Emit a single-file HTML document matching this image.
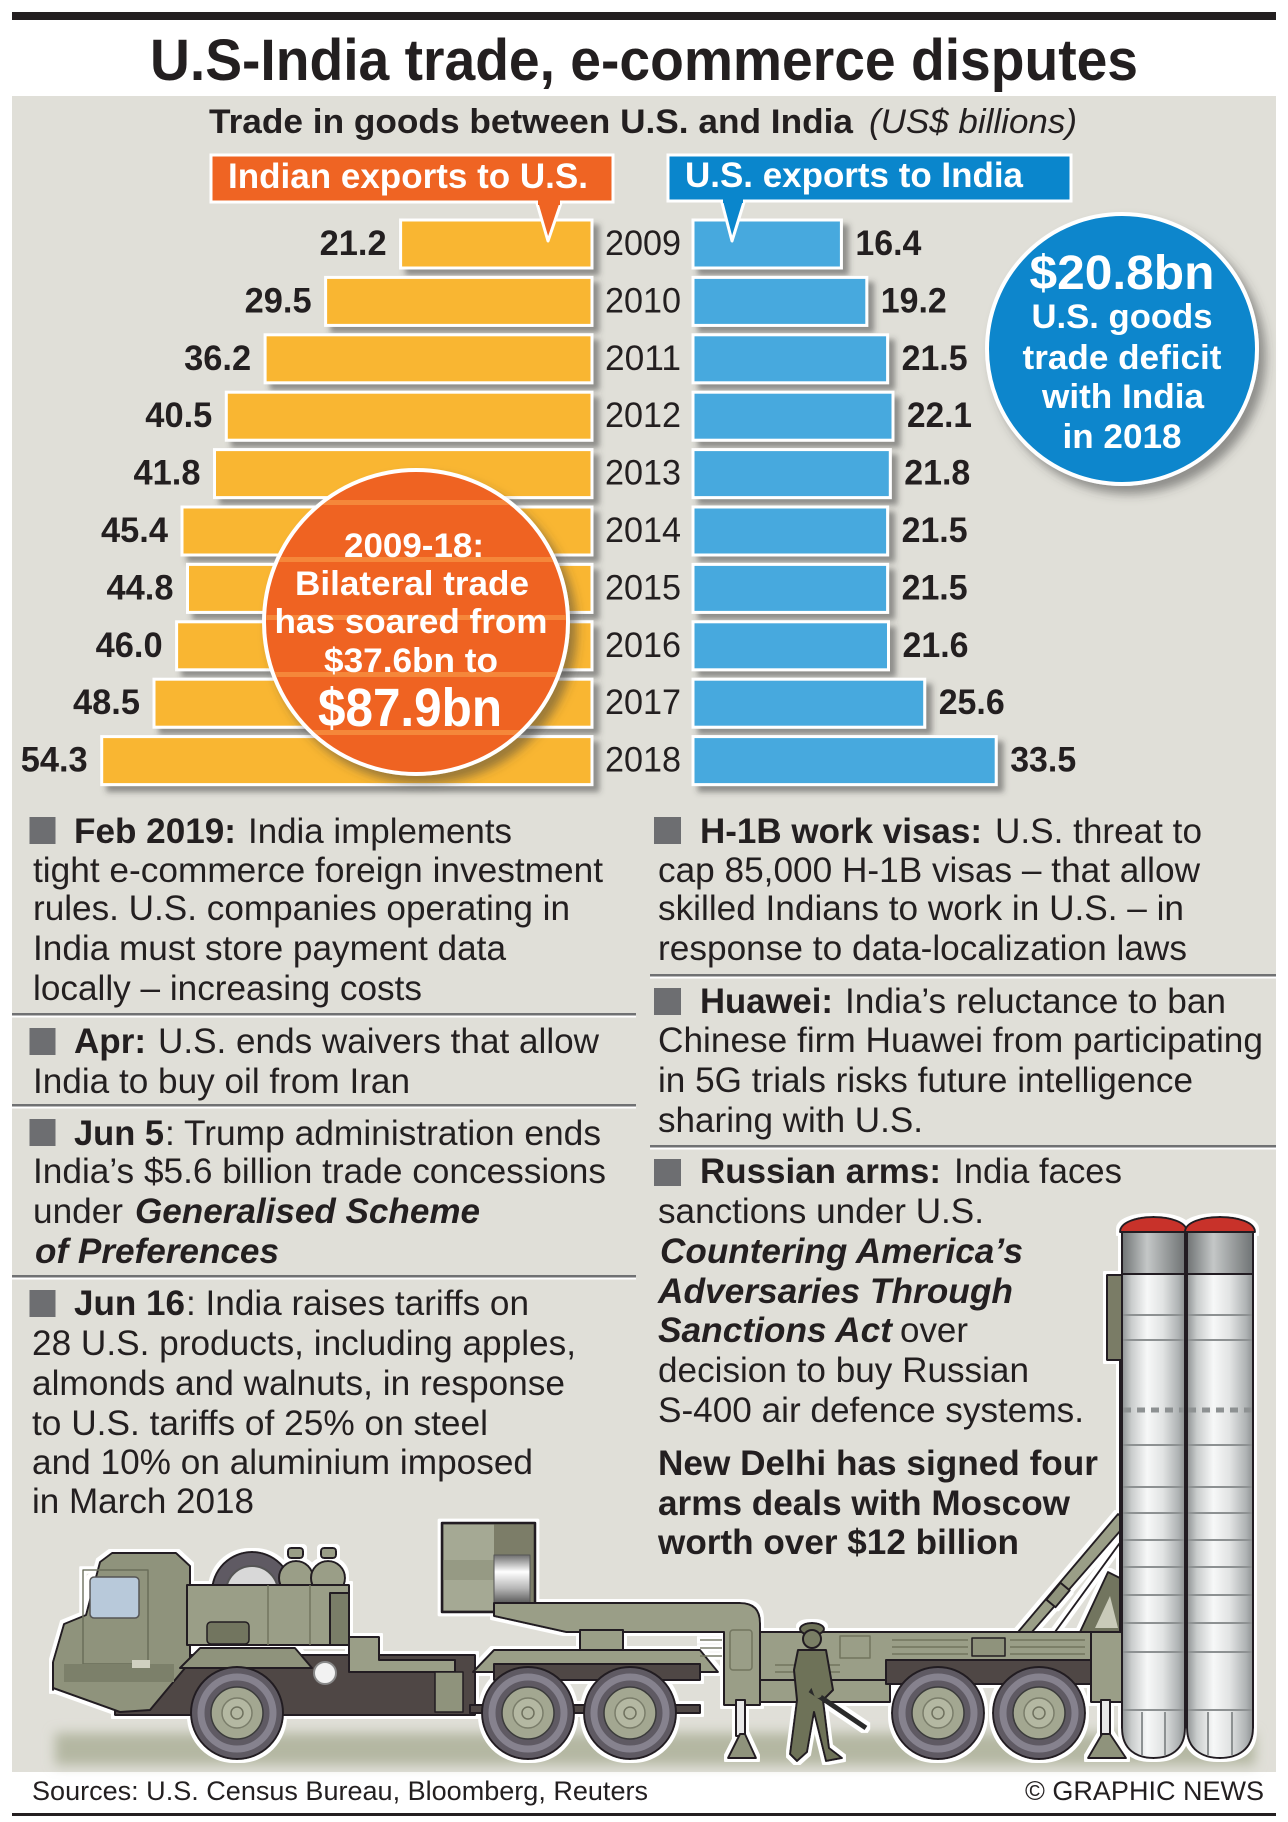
<!DOCTYPE html>
<html>
<head>
<meta charset="utf-8">
<style>
html,body{margin:0;padding:0;background:#fff;}
svg{display:block;}
text{font-family:"Liberation Sans",Arial,sans-serif;fill:#231f20;}
.bd{font-weight:bold;}
.it{font-style:italic;}
.w{fill:#fff;}
</style>
</head>
<body>
<svg width="1288" height="1822" viewBox="0 0 1288 1822" xmlns="http://www.w3.org/2000/svg">
<defs>
  <filter id="sh" x="-10%" y="-10%" width="130%" height="140%">
    <feDropShadow dx="6" dy="6" stdDeviation="3" flood-color="#3a3a3a" flood-opacity="0.5"/>
  </filter>
  <filter id="csh" x="-20%" y="-20%" width="140%" height="140%">
    <feDropShadow dx="7" dy="8" stdDeviation="5" flood-color="#3a3a3a" flood-opacity="0.5"/>
  </filter>
  <filter id="halo" filterUnits="userSpaceOnUse" x="0" y="1150" width="1288" height="672">
    <feMorphology in="SourceAlpha" operator="dilate" radius="3" result="d"/>
    <feFlood flood-color="#ffffff"/>
    <feComposite in2="d" operator="in" result="wh"/>
    <feMerge><feMergeNode in="wh"/><feMergeNode in="SourceGraphic"/></feMerge>
  </filter>
  <filter id="blur" x="-5%" y="-50%" width="110%" height="200%">
    <feGaussianBlur stdDeviation="6"/>
  </filter>
  <clipPath id="oc"><circle cx="416" cy="622" r="150"/></clipPath>
  <linearGradient id="mg" x1="0" y1="0" x2="1" y2="0">
    <stop offset="0" stop-color="#8f9394"/>
    <stop offset="0.15" stop-color="#c9cccc"/>
    <stop offset="0.4" stop-color="#f7f8f8"/>
    <stop offset="0.65" stop-color="#e1e3e3"/>
    <stop offset="0.9" stop-color="#aeb2b3"/>
    <stop offset="1" stop-color="#8c9091"/>
  </linearGradient>
  <linearGradient id="mg2" x1="0" y1="0" x2="1" y2="0">
    <stop offset="0" stop-color="#6f7374"/>
    <stop offset="0.4" stop-color="#c4c7c7"/>
    <stop offset="1" stop-color="#6f7374"/>
  </linearGradient>
  <linearGradient id="chrome" x1="0" y1="0" x2="0" y2="1">
    <stop offset="0" stop-color="#6e6e6e"/>
    <stop offset="0.35" stop-color="#ffffff"/>
    <stop offset="0.7" stop-color="#b5b5b5"/>
    <stop offset="1" stop-color="#5a5a5a"/>
  </linearGradient>
</defs>

<rect width="1288" height="1822" fill="#fff"/>
<rect x="12" y="12" width="1264" height="8" fill="#231f20"/>
<text x="150" y="80" class="bd" font-size="58" textLength="988" lengthAdjust="spacingAndGlyphs">U.S-India trade, e-commerce disputes</text>

<rect x="12" y="96" width="1264" height="1676" fill="#e0dfd8"/>

<text x="209" y="133" class="bd" font-size="34" textLength="644" lengthAdjust="spacingAndGlyphs">Trade in goods between U.S. and India</text>
<text x="869" y="133" class="it" font-size="34" textLength="208" lengthAdjust="spacingAndGlyphs">(US$ billions)</text>

<!-- Left bars -->
<g filter="url(#sh)" fill="#f9b632" stroke="#fff" stroke-width="3">
  <rect x="400.6" y="220" width="191.4" height="48"/>
  <rect x="325.6" y="277.4" width="266.4" height="48"/>
  <rect x="265.1" y="334.8" width="326.9" height="48"/>
  <rect x="226.3" y="392.2" width="365.7" height="48"/>
  <rect x="214.5" y="449.6" width="377.5" height="48"/>
  <rect x="182.0" y="507" width="410" height="48"/>
  <rect x="187.5" y="564.4" width="404.5" height="48"/>
  <rect x="176.6" y="621.8" width="415.4" height="48"/>
  <rect x="154.0" y="679.2" width="438" height="48"/>
  <rect x="101.7" y="736.6" width="490.3" height="48"/>
</g>
<!-- Right bars -->
<g filter="url(#sh)" fill="#47a9de" stroke="#fff" stroke-width="3">
  <rect x="693" y="220" width="148.4" height="48"/>
  <rect x="693" y="277.4" width="173.8" height="48"/>
  <rect x="693" y="334.8" width="194.6" height="48"/>
  <rect x="693" y="392.2" width="200" height="48"/>
  <rect x="693" y="449.6" width="197.3" height="48"/>
  <rect x="693" y="507" width="194.6" height="48"/>
  <rect x="693" y="564.4" width="194.6" height="48"/>
  <rect x="693" y="621.8" width="195.5" height="48"/>
  <rect x="693" y="679.2" width="231.7" height="48"/>
  <rect x="693" y="736.6" width="303.2" height="48"/>
</g>

<!-- Left values -->
<g font-size="35" text-anchor="end">
  <text x="386.6" y="255" class="bd" textLength="67" lengthAdjust="spacingAndGlyphs">21.2</text>
  <text x="311.6" y="312.4" class="bd" textLength="67" lengthAdjust="spacingAndGlyphs">29.5</text>
  <text x="251.1" y="369.8" class="bd" textLength="67" lengthAdjust="spacingAndGlyphs">36.2</text>
  <text x="212.3" y="427.2" class="bd" textLength="67" lengthAdjust="spacingAndGlyphs">40.5</text>
  <text x="200.5" y="484.6" class="bd" textLength="67" lengthAdjust="spacingAndGlyphs">41.8</text>
  <text x="168" y="542" class="bd" textLength="67" lengthAdjust="spacingAndGlyphs">45.4</text>
  <text x="173.5" y="599.4" class="bd" textLength="67" lengthAdjust="spacingAndGlyphs">44.8</text>
  <text x="162.6" y="656.8" class="bd" textLength="67" lengthAdjust="spacingAndGlyphs">46.0</text>
  <text x="140" y="714.2" class="bd" textLength="67" lengthAdjust="spacingAndGlyphs">48.5</text>
  <text x="87.7" y="771.6" class="bd" textLength="67" lengthAdjust="spacingAndGlyphs">54.3</text>
</g>
<!-- Years -->
<g font-size="35">
  <text x="605" y="255" textLength="76" lengthAdjust="spacingAndGlyphs">2009</text>
  <text x="605" y="312.4" textLength="76" lengthAdjust="spacingAndGlyphs">2010</text>
  <text x="605" y="369.8" textLength="76" lengthAdjust="spacingAndGlyphs">2011</text>
  <text x="605" y="427.2" textLength="76" lengthAdjust="spacingAndGlyphs">2012</text>
  <text x="605" y="484.6" textLength="76" lengthAdjust="spacingAndGlyphs">2013</text>
  <text x="605" y="542" textLength="76" lengthAdjust="spacingAndGlyphs">2014</text>
  <text x="605" y="599.4" textLength="76" lengthAdjust="spacingAndGlyphs">2015</text>
  <text x="605" y="656.8" textLength="76" lengthAdjust="spacingAndGlyphs">2016</text>
  <text x="605" y="714.2" textLength="76" lengthAdjust="spacingAndGlyphs">2017</text>
  <text x="605" y="771.6" textLength="76" lengthAdjust="spacingAndGlyphs">2018</text>
</g>
<!-- Right values -->
<g font-size="35">
  <text x="855.4" y="255" class="bd" textLength="66" lengthAdjust="spacingAndGlyphs">16.4</text>
  <text x="880.8" y="312.4" class="bd" textLength="66" lengthAdjust="spacingAndGlyphs">19.2</text>
  <text x="901.6" y="369.8" class="bd" textLength="66" lengthAdjust="spacingAndGlyphs">21.5</text>
  <text x="907" y="427.2" class="bd" textLength="65" lengthAdjust="spacingAndGlyphs">22.1</text>
  <text x="904.3" y="484.6" class="bd" textLength="66" lengthAdjust="spacingAndGlyphs">21.8</text>
  <text x="901.6" y="542" class="bd" textLength="66" lengthAdjust="spacingAndGlyphs">21.5</text>
  <text x="901.6" y="599.4" class="bd" textLength="66" lengthAdjust="spacingAndGlyphs">21.5</text>
  <text x="902.5" y="656.8" class="bd" textLength="66" lengthAdjust="spacingAndGlyphs">21.6</text>
  <text x="938.7" y="714.2" class="bd" textLength="66" lengthAdjust="spacingAndGlyphs">25.6</text>
  <text x="1010.2" y="771.6" class="bd" textLength="66" lengthAdjust="spacingAndGlyphs">33.5</text>
</g>

<!-- Header boxes -->
<polygon points="536,200 562,200 548,241" fill="#ef6423" stroke="#fff" stroke-width="3" stroke-linejoin="round"/>
<rect x="211" y="155" width="402" height="47" fill="#ef6423" stroke="#fff" stroke-width="3"/>
<rect x="538" y="199" width="22" height="6" fill="#ef6423"/>
<text x="228" y="188" class="bd w" font-size="35" textLength="360" lengthAdjust="spacingAndGlyphs">Indian exports to U.S.</text>

<polygon points="721,199 745,199 732,241" fill="#0a86cc" stroke="#fff" stroke-width="3" stroke-linejoin="round"/>
<rect x="668" y="155" width="403" height="46" fill="#0a86cc" stroke="#fff" stroke-width="3"/>
<rect x="723" y="197" width="20" height="6" fill="#0a86cc"/>
<text x="685" y="187" class="bd w" font-size="35" textLength="338" lengthAdjust="spacingAndGlyphs">U.S. exports to India</text>

<!-- Blue circle -->
<circle cx="1122" cy="349" r="135" fill="#0a86cc" stroke="#fff" stroke-width="4" filter="url(#csh)"/>
<g text-anchor="middle">
  <text x="1122" y="289" class="bd w" font-size="48" textLength="185" lengthAdjust="spacingAndGlyphs">$20.8bn</text>
  <text x="1122" y="328" class="bd w" font-size="34" textLength="181" lengthAdjust="spacingAndGlyphs">U.S. goods</text>
  <text x="1122" y="369" class="bd w" font-size="34" textLength="199" lengthAdjust="spacingAndGlyphs">trade deficit</text>
  <text x="1123" y="408" class="bd w" font-size="34" textLength="162" lengthAdjust="spacingAndGlyphs">with India</text>
  <text x="1122" y="448" class="bd w" font-size="34" textLength="119" lengthAdjust="spacingAndGlyphs">in 2018</text>
</g>

<!-- Orange circle -->
<circle cx="416" cy="622" r="152" fill="#ef6423" stroke="#fff" stroke-width="4" filter="url(#csh)"/>
<g clip-path="url(#oc)" fill="#f5873a">
  <rect x="260" y="500" width="320" height="5"/>
  <rect x="260" y="557" width="320" height="5"/>
  <rect x="260" y="615" width="320" height="5"/>
  <rect x="260" y="672" width="320" height="5"/>
  <rect x="260" y="730" width="320" height="5"/>
</g>
<g text-anchor="middle">
  <text x="414" y="557" class="bd w" font-size="34" textLength="140" lengthAdjust="spacingAndGlyphs">2009-18:</text>
  <text x="412" y="595" class="bd w" font-size="34" textLength="234" lengthAdjust="spacingAndGlyphs">Bilateral trade</text>
  <text x="411" y="633" class="bd w" font-size="34" textLength="273" lengthAdjust="spacingAndGlyphs">has soared from</text>
  <text x="411" y="672" class="bd w" font-size="34" textLength="174" lengthAdjust="spacingAndGlyphs">$37.6bn to</text>
  <text x="410" y="726" class="bd w" font-size="54" textLength="184" lengthAdjust="spacingAndGlyphs">$87.9bn</text>
</g>

<!-- Separators -->
<g>
  <rect x="12" y="1013" width="624" height="2.5" fill="#707173"/><rect x="12" y="1015.5" width="624" height="2" fill="#fff"/>
  <rect x="12" y="1104" width="624" height="2.5" fill="#707173"/><rect x="12" y="1106.5" width="624" height="2" fill="#fff"/>
  <rect x="12" y="1275" width="624" height="2.5" fill="#707173"/><rect x="12" y="1277.5" width="624" height="2" fill="#fff"/>
  <rect x="650" y="974" width="626" height="2.5" fill="#707173"/><rect x="650" y="976.5" width="626" height="2" fill="#fff"/>
  <rect x="650" y="1145" width="626" height="2.5" fill="#707173"/><rect x="650" y="1147.5" width="626" height="2" fill="#fff"/>
</g>

<!-- Bullets -->
<g fill="#6d6e71">
  <rect x="29.5" y="817" width="26" height="27"/>
  <rect x="29.5" y="1028" width="26" height="27"/>
  <rect x="29.5" y="1119" width="26" height="27"/>
  <rect x="29.5" y="1290" width="26" height="27"/>
  <rect x="654" y="817" width="27" height="27"/>
  <rect x="654" y="988" width="27" height="27"/>
  <rect x="654" y="1159" width="27" height="27"/>
</g>

<!-- Left column text -->
<g font-size="35">
  <text x="74" y="843" class="bd" textLength="162" lengthAdjust="spacingAndGlyphs">Feb 2019:</text>
  <text x="248" y="843" textLength="264" lengthAdjust="spacingAndGlyphs">India implements</text>
  <text x="33" y="882" textLength="570" lengthAdjust="spacingAndGlyphs">tight e-commerce foreign investment</text>
  <text x="33" y="920" textLength="537" lengthAdjust="spacingAndGlyphs">rules. U.S. companies operating in</text>
  <text x="33" y="960" textLength="473" lengthAdjust="spacingAndGlyphs">India must store payment data</text>
  <text x="33" y="1000" textLength="389" lengthAdjust="spacingAndGlyphs">locally – increasing costs</text>

  <text x="74" y="1053" class="bd" textLength="72" lengthAdjust="spacingAndGlyphs">Apr:</text>
  <text x="158" y="1053" textLength="441" lengthAdjust="spacingAndGlyphs">U.S. ends waivers that allow</text>
  <text x="33" y="1093" textLength="377" lengthAdjust="spacingAndGlyphs">India to buy oil from Iran</text>

  <text x="74" y="1145" class="bd" textLength="90" lengthAdjust="spacingAndGlyphs">Jun 5</text>
  <text x="165" y="1145" textLength="436" lengthAdjust="spacingAndGlyphs">: Trump administration ends</text>
  <text x="33" y="1183" textLength="573" lengthAdjust="spacingAndGlyphs">India’s $5.6 billion trade concessions</text>
  <text x="33" y="1223" textLength="90" lengthAdjust="spacingAndGlyphs">under</text>
  <text x="135" y="1223" class="bd it" textLength="345" lengthAdjust="spacingAndGlyphs">Generalised Scheme</text>
  <text x="35" y="1263" class="bd it" textLength="244" lengthAdjust="spacingAndGlyphs">of Preferences</text>

  <text x="74" y="1315" class="bd" textLength="111" lengthAdjust="spacingAndGlyphs">Jun 16</text>
  <text x="186" y="1315" textLength="343" lengthAdjust="spacingAndGlyphs">: India raises tariffs on</text>
  <text x="32" y="1355" textLength="544" lengthAdjust="spacingAndGlyphs">28 U.S. products, including apples,</text>
  <text x="32" y="1395" textLength="533" lengthAdjust="spacingAndGlyphs">almonds and walnuts, in response</text>
  <text x="32" y="1435" textLength="456" lengthAdjust="spacingAndGlyphs">to U.S. tariffs of 25% on steel</text>
  <text x="32" y="1474" textLength="501" lengthAdjust="spacingAndGlyphs">and 10% on aluminium imposed</text>
  <text x="32" y="1513" textLength="222" lengthAdjust="spacingAndGlyphs">in March 2018</text>
</g>

<!-- Right column text -->
<g font-size="35">
  <text x="700" y="843" class="bd" textLength="282" lengthAdjust="spacingAndGlyphs">H-1B work visas:</text>
  <text x="995" y="843" textLength="207" lengthAdjust="spacingAndGlyphs">U.S. threat to</text>
  <text x="658" y="882" textLength="542" lengthAdjust="spacingAndGlyphs">cap 85,000 H-1B visas – that allow</text>
  <text x="658" y="920" textLength="526" lengthAdjust="spacingAndGlyphs">skilled Indians to work in U.S. – in</text>
  <text x="658" y="960" textLength="529" lengthAdjust="spacingAndGlyphs">response to data-localization laws</text>

  <text x="700" y="1013" class="bd" textLength="133" lengthAdjust="spacingAndGlyphs">Huawei:</text>
  <text x="845" y="1013" textLength="381" lengthAdjust="spacingAndGlyphs">India’s reluctance to ban</text>
  <text x="658" y="1052" textLength="605" lengthAdjust="spacingAndGlyphs">Chinese firm Huawei from participating</text>
  <text x="658" y="1092" textLength="535" lengthAdjust="spacingAndGlyphs">in 5G trials risks future intelligence</text>
  <text x="658" y="1132" textLength="265" lengthAdjust="spacingAndGlyphs">sharing with U.S.</text>

  <text x="700" y="1183" class="bd" textLength="241" lengthAdjust="spacingAndGlyphs">Russian arms:</text>
  <text x="954" y="1183" textLength="168" lengthAdjust="spacingAndGlyphs">India faces</text>
  <text x="658" y="1223" textLength="326" lengthAdjust="spacingAndGlyphs">sanctions under U.S.</text>
  <text x="660" y="1263" class="bd it" textLength="363" lengthAdjust="spacingAndGlyphs">Countering America’s</text>
  <text x="658" y="1303" class="bd it" textLength="355" lengthAdjust="spacingAndGlyphs">Adversaries Through</text>
  <text x="658" y="1342" class="bd it" textLength="234" lengthAdjust="spacingAndGlyphs">Sanctions Act</text>
  <text x="900" y="1342" textLength="68" lengthAdjust="spacingAndGlyphs">over</text>
  <text x="658" y="1382" textLength="371" lengthAdjust="spacingAndGlyphs">decision to buy Russian</text>
  <text x="658" y="1422" textLength="426" lengthAdjust="spacingAndGlyphs">S-400 air defence systems.</text>
  <text x="658" y="1475" class="bd" textLength="440" lengthAdjust="spacingAndGlyphs">New Delhi has signed four</text>
  <text x="658" y="1515" class="bd" textLength="412" lengthAdjust="spacingAndGlyphs">arms deals with Moscow</text>
  <text x="658" y="1554" class="bd" textLength="361" lengthAdjust="spacingAndGlyphs">worth over $12 billion</text>
</g>

<!-- Ground shadow -->
<rect x="55" y="1733" width="1200" height="32" fill="#b4b7a2" filter="url(#blur)"/>

<!-- Vehicle -->
<g filter="url(#halo)" stroke="#231f20" stroke-width="2" stroke-linejoin="round">
  <rect x="115" y="1655" width="360" height="60" fill="#4f4745"/>
  <rect x="470" y="1705" width="230" height="8" fill="#4f4745"/>
  <circle cx="252" cy="1592" r="40" fill="#5e5a64"/>
  <circle cx="252" cy="1592" r="26" fill="#d8d8d8" stroke="#555"/>
  <rect x="288" y="1548" width="15" height="10" rx="3" fill="#9a9e87"/>
  <rect x="321" y="1548" width="15" height="10" rx="3" fill="#9a9e87"/>
  <circle cx="296" cy="1578" r="17" fill="#9a9e87"/>
  <circle cx="328" cy="1578" r="17" fill="#9a9e87"/>
  <path d="M53,1690 L53,1662 L64,1624 L86,1615 L100,1562 L112,1553 L176,1553 L190,1566 L190,1662 L150,1710 L120,1712 L53,1688 Z" fill="#8f937c"/>
  <rect x="90" y="1577" width="49" height="41" rx="4" fill="#b8c9da" stroke="#555" stroke-width="1.5"/>
  <rect x="83" y="1570" width="65" height="94" fill="none" stroke="#6b6e5a" stroke-width="1.5"/>
  <rect x="64" y="1664" width="110" height="18" fill="#7c806a" stroke="none"/>
  <rect x="132" y="1660" width="18" height="8" fill="#d0d0c0" stroke="none"/>
  <rect x="187" y="1585" width="162" height="60" fill="#9a9e87"/>
  <rect x="207" y="1622" width="42" height="22" rx="4" fill="#72755f" stroke-width="1.5"/>
  <rect x="330" y="1593" width="19" height="52" fill="#7a7e68"/>
  <line x1="268" y1="1585" x2="268" y2="1645" stroke="#72755f" stroke-width="1.5"/>
  <line x1="310" y1="1585" x2="310" y2="1645" stroke="#72755f" stroke-width="1.5"/>
  <path d="M180,1668 L200,1648 L295,1648 L312,1668 Z" fill="#8f937c"/>
  <path d="M349,1637 L379,1637 L379,1660 L455,1660 L455,1672 L349,1672 Z" fill="#9a9e87"/>
  <circle cx="325" cy="1673" r="11" fill="#f2f2f2" stroke="#888"/>
  <rect x="435" y="1672" width="28" height="40" fill="#8f937c" stroke-width="1.5"/>
  <path d="M473,1672 L494,1650 L700,1650 L718,1672 Z" fill="#9a9e87"/>
  <rect x="494" y="1664" width="206" height="16" fill="#4f4745"/>
  <rect x="442" y="1523" width="93" height="89" fill="#a5a994" stroke-width="2.5"/>
  <rect x="494" y="1523" width="41" height="89" fill="#7b7d67" stroke="none"/>
  <rect x="442" y="1560" width="52" height="20" fill="#969a84" stroke="none"/>
  <rect x="494" y="1555" width="36" height="48" fill="url(#chrome)" stroke="#555" stroke-width="1"/>
  <rect x="442" y="1523" width="93" height="89" fill="none" stroke-width="2.5"/>
  <path d="M494,1603 L740,1603 Q760,1603 760,1623 L760,1705 L724,1705 L724,1632 L566,1632 L494,1616 Z" fill="#9a9e87"/>
  <rect x="580" y="1630" width="43" height="20" fill="#9a9e87"/>
  <g stroke="#72755f" stroke-width="1.5">
    <line x1="700" y1="1640" x2="722" y2="1640"/><line x1="700" y1="1648" x2="722" y2="1648"/><line x1="700" y1="1656" x2="722" y2="1656"/>
  </g>
  <rect x="730" y="1630" width="22" height="40" rx="3" fill="none" stroke="#72755f" stroke-width="1.5"/>
  <rect x="760" y="1632" width="371" height="48" fill="#9a9e87"/>
  <rect x="760" y="1680" width="130" height="22" fill="#9a9e87"/>
  <rect x="886" y="1660" width="205" height="24" fill="#4f4745"/>
  <rect x="1091" y="1632" width="40" height="70" fill="#9a9e87"/>
  <g stroke="#72755f" stroke-width="1.5">
    <line x1="892" y1="1640" x2="968" y2="1640"/><line x1="892" y1="1647" x2="968" y2="1647"/><line x1="892" y1="1654" x2="968" y2="1654"/>
    <line x1="1010" y1="1640" x2="1085" y2="1640"/><line x1="1010" y1="1647" x2="1085" y2="1647"/><line x1="1010" y1="1654" x2="1085" y2="1654"/>
    <line x1="775" y1="1665" x2="840" y2="1665"/><line x1="775" y1="1672" x2="840" y2="1672"/>
  </g>
  <rect x="972" y="1638" width="33" height="18" fill="#8f937c" stroke-width="1.5"/>
  <rect x="840" y="1636" width="30" height="22" fill="none" stroke="#72755f" stroke-width="1.5"/>
  <rect x="736" y="1700" width="9" height="36" fill="#e8e8e8"/>
  <path d="M728,1758 L740,1734 L745,1734 L756,1758 Z" fill="#8f937c"/>
  <rect x="1101" y="1700" width="9" height="36" fill="#e8e8e8"/>
  <path d="M1088,1758 L1102,1734 L1110,1734 L1126,1758 Z" fill="#8f937c"/>
  <polygon points="1018,1632 1032,1632 1128,1522 1118,1514" fill="#9a9e87"/>
  <rect x="1052" y="1584" width="12" height="22" fill="#8f937c" transform="rotate(40 1058 1595)"/>
  <line x1="1055" y1="1632" x2="1122" y2="1540" stroke-width="2"/>
  <polygon points="1080,1632 1108,1572 1124,1580 1124,1632" fill="#72755f"/>
  <polygon points="1095,1628 1110,1596 1118,1628" fill="#c9cab9" stroke="none"/>
  <rect x="1107" y="1275" width="16" height="85" fill="#7a7c66"/>
  <line x1="1120" y1="1360" x2="1120" y2="1632" stroke-width="2"/>
  <path d="M1122,1230 L1185,1230 L1185,1728 C1185,1750 1170,1758 1153.5,1758 C1137,1758 1122,1750 1122,1728 Z" fill="url(#mg)"/>
  <path d="M1187,1230 L1253,1230 L1253,1728 C1253,1750 1237,1758 1220,1758 C1203,1758 1187,1750 1187,1728 Z" fill="url(#mg)"/>
  <rect x="1122" y="1230" width="63" height="44" fill="url(#mg2)"/>
  <rect x="1187" y="1230" width="66" height="44" fill="url(#mg2)"/>
  <path d="M1120,1232 C1120,1212 1187,1212 1187,1232 Z" fill="#c8312c"/>
  <path d="M1185,1232 C1185,1212 1255,1212 1255,1232 Z" fill="#c8312c"/>
  <g stroke="#8d9192" stroke-width="2">
    <line x1="1123" y1="1315" x2="1184" y2="1315"/><line x1="1188" y1="1315" x2="1252" y2="1315"/>
    <line x1="1123" y1="1340" x2="1184" y2="1340"/><line x1="1188" y1="1340" x2="1252" y2="1340"/>
    <line x1="1123" y1="1410" x2="1184" y2="1410" stroke-width="5" stroke-dasharray="8 6"/><line x1="1188" y1="1410" x2="1252" y2="1410" stroke-width="5" stroke-dasharray="8 6"/>
    <line x1="1123" y1="1445" x2="1184" y2="1445"/><line x1="1188" y1="1445" x2="1252" y2="1445"/>
    <line x1="1123" y1="1487" x2="1184" y2="1487"/><line x1="1188" y1="1487" x2="1252" y2="1487"/>
    <line x1="1123" y1="1513" x2="1184" y2="1513"/><line x1="1188" y1="1513" x2="1252" y2="1513"/>
    <line x1="1123" y1="1540" x2="1184" y2="1540"/><line x1="1188" y1="1540" x2="1252" y2="1540"/>
    <line x1="1123" y1="1567" x2="1184" y2="1567"/><line x1="1188" y1="1567" x2="1252" y2="1567"/>
    <line x1="1123" y1="1595" x2="1184" y2="1595"/><line x1="1188" y1="1595" x2="1252" y2="1595"/>
    <line x1="1123" y1="1623" x2="1184" y2="1623"/><line x1="1188" y1="1623" x2="1252" y2="1623"/>
    <line x1="1123" y1="1652" x2="1184" y2="1652"/><line x1="1188" y1="1652" x2="1252" y2="1652"/>
    <line x1="1123" y1="1710" x2="1184" y2="1710"/><line x1="1188" y1="1710" x2="1252" y2="1710"/>
    <line x1="1142" y1="1712" x2="1142" y2="1755"/><line x1="1165" y1="1712" x2="1165" y2="1755"/>
    <line x1="1208" y1="1712" x2="1208" y2="1755"/><line x1="1232" y1="1712" x2="1232" y2="1755"/>
  </g>
  <ellipse cx="812" cy="1629" rx="12" ry="6" fill="#6e7259"/>
  <circle cx="812" cy="1639" r="9" fill="#7a7e65"/>
  <path d="M798,1650 L826,1650 L833,1690 L823,1700 L829,1748 L842,1758 L826,1761 L814,1712 L807,1752 L797,1761 L790,1754 L797,1700 L794,1670 Z" fill="#6e7259"/>
  <line x1="810" y1="1690" x2="866" y2="1728" stroke="#2a2a2a" stroke-width="5"/>
  <line x1="806" y1="1662" x2="818" y2="1694" stroke="#6e7259" stroke-width="8" stroke-linecap="round"/>
  <g>
    <circle cx="237" cy="1713" r="46" fill="#5e5a64"/>
    <circle cx="237" cy="1713" r="36" fill="none" stroke="#86828e" stroke-width="7"/>
    <circle cx="237" cy="1713" r="26" fill="#a3a791" stroke="#3a3a3a" stroke-width="1.5"/>
    <circle cx="237" cy="1713" r="15" fill="#b4b8a2" stroke="#7a7d6a" stroke-width="1.5"/>
    <circle cx="237" cy="1713" r="6" fill="none" stroke="#6f725f" stroke-width="1.5"/>
  </g>
  <g>
    <circle cx="528" cy="1713" r="46" fill="#5e5a64"/>
    <circle cx="528" cy="1713" r="36" fill="none" stroke="#86828e" stroke-width="7"/>
    <circle cx="528" cy="1713" r="26" fill="#a3a791" stroke="#3a3a3a" stroke-width="1.5"/>
    <circle cx="528" cy="1713" r="15" fill="#b4b8a2" stroke="#7a7d6a" stroke-width="1.5"/>
    <circle cx="528" cy="1713" r="6" fill="none" stroke="#6f725f" stroke-width="1.5"/>
  </g>
  <g>
    <circle cx="630" cy="1713" r="46" fill="#5e5a64"/>
    <circle cx="630" cy="1713" r="36" fill="none" stroke="#86828e" stroke-width="7"/>
    <circle cx="630" cy="1713" r="26" fill="#a3a791" stroke="#3a3a3a" stroke-width="1.5"/>
    <circle cx="630" cy="1713" r="15" fill="#b4b8a2" stroke="#7a7d6a" stroke-width="1.5"/>
    <circle cx="630" cy="1713" r="6" fill="none" stroke="#6f725f" stroke-width="1.5"/>
  </g>
  <g>
    <circle cx="938" cy="1713" r="46" fill="#5e5a64"/>
    <circle cx="938" cy="1713" r="36" fill="none" stroke="#86828e" stroke-width="7"/>
    <circle cx="938" cy="1713" r="26" fill="#a3a791" stroke="#3a3a3a" stroke-width="1.5"/>
    <circle cx="938" cy="1713" r="15" fill="#b4b8a2" stroke="#7a7d6a" stroke-width="1.5"/>
    <circle cx="938" cy="1713" r="6" fill="none" stroke="#6f725f" stroke-width="1.5"/>
  </g>
  <g>
    <circle cx="1039" cy="1713" r="46" fill="#5e5a64"/>
    <circle cx="1039" cy="1713" r="36" fill="none" stroke="#86828e" stroke-width="7"/>
    <circle cx="1039" cy="1713" r="26" fill="#a3a791" stroke="#3a3a3a" stroke-width="1.5"/>
    <circle cx="1039" cy="1713" r="15" fill="#b4b8a2" stroke="#7a7d6a" stroke-width="1.5"/>
    <circle cx="1039" cy="1713" r="6" fill="none" stroke="#6f725f" stroke-width="1.5"/>
  </g>
</g>

<!-- Footer -->
<text x="32" y="1800" font-size="27" textLength="616" lengthAdjust="spacingAndGlyphs">Sources: U.S. Census Bureau, Bloomberg, Reuters</text>
<text x="1025" y="1800" font-size="27" textLength="239" lengthAdjust="spacingAndGlyphs">© GRAPHIC NEWS</text>
<rect x="12" y="1813" width="1264" height="3" fill="#231f20"/>
</svg>
</body>
</html>
